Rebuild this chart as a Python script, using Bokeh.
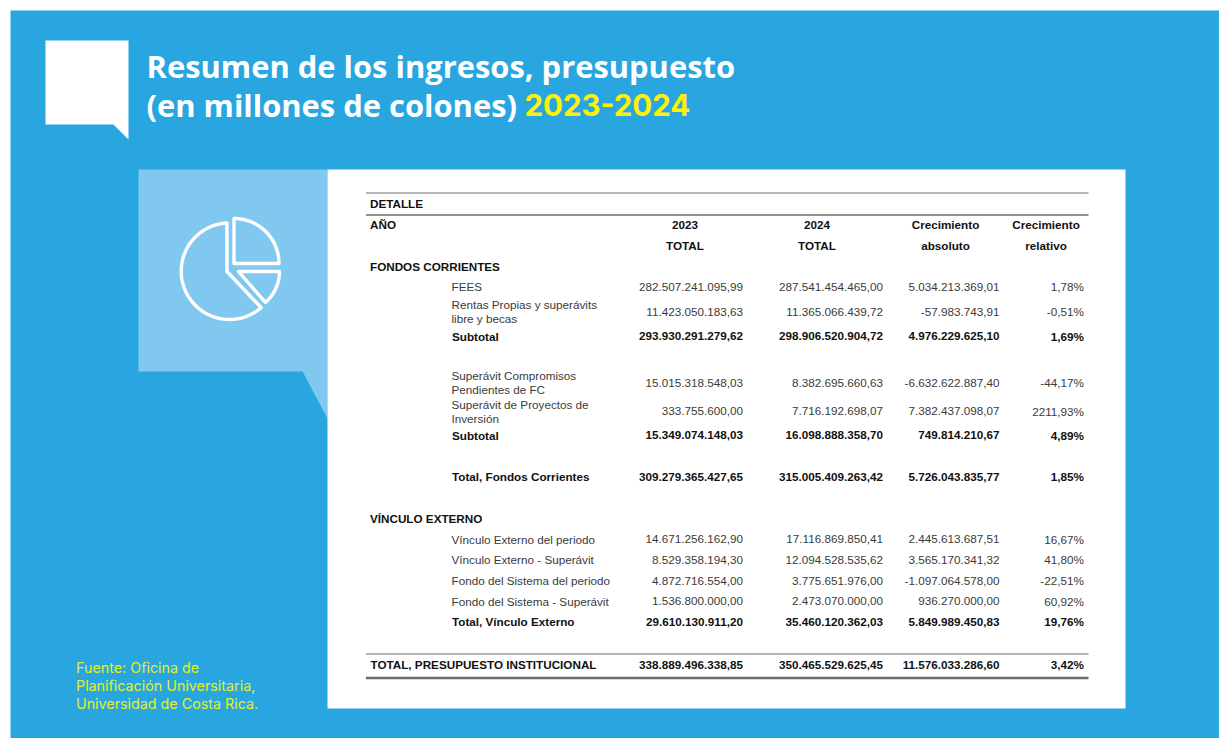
import numpy as np
from bokeh.embed import file_html
from bokeh.resources import INLINE
from bokeh.plotting import figure
from bokeh.models import Range1d
from bokeh.core.properties import value

# ---- content -------------------------------------------------------------
title_1 = "Resumen de los ingresos, presupuesto"
title_2 = "(en millones de colones) "
title_years = "2023-2024"
source_lines = ["Fuente: Oficina de", "Planificación Universitaria,", "Universidad de Costa Rica."]

header_detail = "DETALLE"
header_year = "AÑO"
header_top = ["2023", "2024", "Crecimiento", "Crecimiento"]
header_bottom = ["TOTAL", "TOTAL", "absoluto", "relativo"]
sections = ["FONDOS CORRIENTES", "VÍNCULO EXTERNO"]

labels = [["FEES"], ["Rentas Propias y superávits", "libre y becas"],
          ["Superávit Compromisos", "Pendientes de FC"], ["Superávit de Proyectos de", "Inversión"],
          ["Vínculo Externo del periodo"], ["Vínculo Externo - Superávit"],
          ["Fondo del Sistema del periodo"], ["Fondo del Sistema - Superávit"]]
v2023 = ["282.507.241.095,99", "11.423.050.183,63", "15.015.318.548,03", "333.755.600,00",
         "14.671.256.162,90", "8.529.358.194,30", "4.872.716.554,00", "1.536.800.000,00"]
v2024 = ["287.541.454.465,00", "11.365.066.439,72", "8.382.695.660,63", "7.716.192.698,07",
         "17.116.869.850,41", "12.094.528.535,62", "3.775.651.976,00", "2.473.070.000,00"]
vabs = ["5.034.213.369,01", "-57.983.743,91", "-6.632.622.887,40", "7.382.437.098,07",
        "2.445.613.687,51", "3.565.170.341,32", "-1.097.064.578,00", "936.270.000,00"]
vrel = ["1,78%", "-0,51%", "-44,17%", "2211,93%", "16,67%", "41,80%", "-22,51%", "60,92%"]

bold_labels = ["Subtotal", "Subtotal", "Total, Fondos Corrientes", "Total, Vínculo Externo",
               "TOTAL, PRESUPUESTO INSTITUCIONAL"]
b2023 = ["293.930.291.279,62", "15.349.074.148,03", "309.279.365.427,65", "29.610.130.911,20", "338.889.496.338,85"]
b2024 = ["298.906.520.904,72", "16.098.888.358,70", "315.005.409.263,42", "35.460.120.362,03", "350.465.529.625,45"]
babs = ["4.976.229.625,10", "749.814.210,67", "5.726.043.835,77", "5.849.989.450,83", "11.576.033.286,60"]
brel = ["1,69%", "4,89%", "1,85%", "19,76%", "3,42%"]

# ---- layout (page pixels) ---------------------------------------------------
BLUE, LIGHT, YELLOW, SRC_YELLOW = "#29a6e0", "#80c8f0", "#fff200", "#e4ee28"
row_y = [286, 311, 382, 410.5, 538.5, 559, 580, 600.5]
bold_y = [335.5, 434.5, 476, 621, 664]
col_right = [742.4, 882.4, 999, 1083.4]
col_center = [684.5, 816.5, 945, 1045.5]
W, H = 1219, 738

p = figure(width=W, height=H, output_backend="svg", toolbar_location=None,
           x_range=Range1d(0, W), y_range=Range1d(H, 0), min_border=0,
           x_axis_type=None, y_axis_type=None, outline_line_color=None,
           background_fill_color="white", border_fill_color="white")
p.grid.visible = False

def poly(xs, ys, color):
    p.patch(xs, ys, fill_color=color, line_color=None)

poly([10, W, W, 10], [10, 10, H, H], BLUE)
poly([45, 128, 128, 113, 45], [40, 40, 139, 124, 124], "white")
poly([138, 327, 327, 302, 138], [169, 169, 418, 371, 371], LIGHT)
poly([327, 1125, 1125, 327], [169, 169, 708, 708], "white")

def txt(x, y, s, size, color="#2b2b2b", font="Liberation Sans", style="normal", align="left"):
    p.text(x=[x], y=[y], text=[s], text_font=value(font), text_font_size=f"{size}px",
           text_font_style=style, text_color=color, text_align=align, text_baseline="middle")

# title and source
TF = "Open Sans"
txt(146, 65, title_1, 30.9, "white", TF, "bold")
txt(146, 104, title_2, 30.9, "white", TF, "bold")
txt(524, 104, title_years, 29.5, YELLOW, "Inter", "bold")
for y, s in zip([666.5, 684.5, 702.5], source_lines):
    txt(75.5, y, s, 14.3, SRC_YELLOW, "Inter")

# pie icon
def arc_pts(cx, cy, r, a0, a1):
    t = np.radians(np.linspace(a0, a1, 60))
    return list(cx + r * np.cos(t)), list(cy + r * np.sin(t))

icon = dict(line_color="white", line_width=3.4, line_join="round", line_cap="round")
ax, ay = arc_pts(229, 270.7, 48.3, -93, -311)
p.line(ax + [226.5, ax[0]], ay + [271, ay[0]], **icon)
ax, ay = arc_pts(233.5, 263, 45, -90, 0)
p.line([233.5] + ax + [233.5], [263] + ay + [263], **icon)
ax, ay = arc_pts(238, 271, 41, 0, 49)
p.line([238] + ax + [238], [271] + ay + [271], **icon)

# rules
p.segment([365.5] * 4, [192.5, 214.5, 653.5, 677.5], [1088] * 4, [192.5, 214.5, 653.5, 677.5],
          line_color="#6e6e6e", line_width=[1.2, 1.4, 1.2, 2.6])

# table
FS = 11.7
LX, IX = 369.5, 451
txt(LX, 202.5, header_detail, FS, "#111", style="bold")
txt(LX, 224, header_year, FS, "#111", style="bold")
for c, a, b in zip(col_center, header_top, header_bottom):
    txt(c, 224, a, FS, "#111", style="bold", align="center")
    txt(c, 244.5, b, FS, "#111", style="bold", align="center")
txt(LX, 266, sections[0], FS, "#111", style="bold")
txt(LX, 517.5, sections[1], FS, "#111", style="bold")

for i, y in enumerate(row_y):
    lines = labels[i]
    if len(lines) == 1:
        txt(IX, y, lines[0], FS, "#3a3a3a")
    else:
        txt(IX, y - 7, lines[0], FS, "#3a3a3a")
        txt(IX, y + 7, lines[1], FS, "#3a3a3a")
    for x, col in zip(col_right, [v2023, v2024, vabs, vrel]):
        txt(x, y, col[i], FS, "#3a3a3a", align="right")

for i, y in enumerate(bold_y):
    txt(370 if i == 4 else IX + 0.5, y, bold_labels[i], FS, "#111", style="bold")
    for x, col in zip(col_right, [b2023, b2024, babs, brel]):
        txt(x, y, col[i], FS, "#111", style="bold", align="right")

open("out.html", "w").write(file_html(p, INLINE))
